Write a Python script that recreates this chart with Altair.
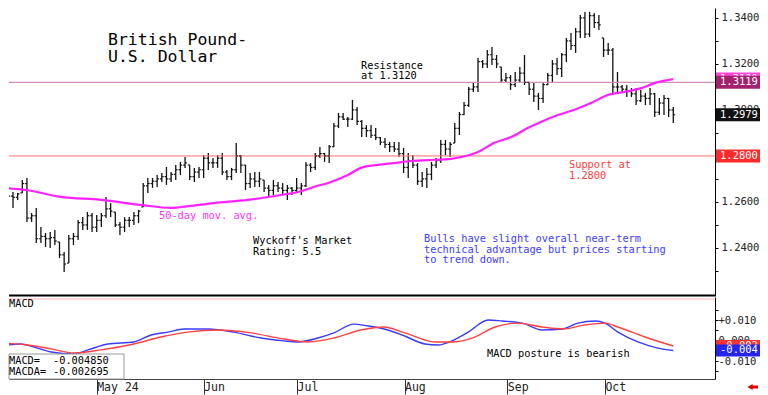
import json
import altair as alt
import pandas as pd

MONO = "DejaVu Sans Mono"

# ---------------- data ----------------
# Daily GBP/USD bars, index 0 = first trading day shown (early April 2024)
highs = [
    1.2652, 1.2665, 1.2643, 1.2639, 1.2695, 1.2704, 1.2552, 1.2574, 1.2491, 1.2465,
    1.2469, 1.2478, 1.2426, 1.2382, 1.2456, 1.2465, 1.2521, 1.2534, 1.2556, 1.2552,
    1.2543, 1.2552, 1.2621, 1.2595, 1.2556, 1.2513, 1.2534, 1.2534, 1.2556, 1.2565,
    1.2682, 1.2704, 1.2704, 1.2717, 1.2726, 1.2752, 1.2730, 1.2761, 1.2774, 1.2795,
    1.2761, 1.2748, 1.2752, 1.2804, 1.2813, 1.2791, 1.2804, 1.2813, 1.2739, 1.2748,
    1.2856, 1.2804, 1.2761, 1.2726, 1.2730, 1.2730, 1.2695, 1.2674, 1.2695, 1.2687,
    1.2682, 1.2674, 1.2665, 1.2704, 1.2682, 1.2774, 1.2769, 1.2813, 1.2839, 1.2813,
    1.2848, 1.2943, 1.2987, 1.2987, 1.2969, 1.3043, 1.3013, 1.2956, 1.2934, 1.2934,
    1.2921, 1.2882, 1.2878, 1.2861, 1.2861, 1.2861, 1.2835, 1.2813, 1.2804, 1.2769,
    1.2730, 1.2748, 1.2774, 1.2791, 1.2869, 1.2869, 1.2861, 1.2943, 1.2991, 1.3035,
    1.3100, 1.3121, 1.3226, 1.3217, 1.3261, 1.3274, 1.3239, 1.3187, 1.3161, 1.3152,
    1.3165, 1.3187, 1.3239, 1.3121, 1.3117, 1.3074, 1.3121, 1.3161, 1.3217, 1.3226,
    1.3248, 1.3313, 1.3335, 1.3356, 1.3413, 1.3426, 1.3426, 1.3421, 1.3413, 1.3313,
    1.3291, 1.3269, 1.3165, 1.3108, 1.3108, 1.3095, 1.3095, 1.3087, 1.3074, 1.3095,
    1.3074, 1.3052, 1.3065, 1.3052, 1.3013,
]
lows = [
    1.2556, 1.2621, 1.2574, 1.2608, 1.2639, 1.2513, 1.2513, 1.2421, 1.2421, 1.2404,
    1.2400, 1.2413, 1.2356, 1.2295, 1.2334, 1.2413, 1.2434, 1.2478, 1.2478, 1.2469,
    1.2469, 1.2491, 1.2530, 1.2534, 1.2491, 1.2456, 1.2469, 1.2491, 1.2500, 1.2508,
    1.2578, 1.2639, 1.2661, 1.2665, 1.2687, 1.2674, 1.2687, 1.2695, 1.2717, 1.2748,
    1.2695, 1.2687, 1.2704, 1.2704, 1.2739, 1.2748, 1.2748, 1.2717, 1.2695, 1.2695,
    1.2726, 1.2726, 1.2652, 1.2661, 1.2665, 1.2665, 1.2643, 1.2621, 1.2630, 1.2643,
    1.2630, 1.2608, 1.2630, 1.2639, 1.2630, 1.2665, 1.2730, 1.2739, 1.2791, 1.2774,
    1.2769, 1.2839, 1.2921, 1.2956, 1.2926, 1.2956, 1.2934, 1.2882, 1.2882, 1.2878,
    1.2869, 1.2848, 1.2835, 1.2817, 1.2817, 1.2795, 1.2726, 1.2704, 1.2748, 1.2674,
    1.2665, 1.2661, 1.2695, 1.2748, 1.2769, 1.2804, 1.2795, 1.2856, 1.2891, 1.2978,
    1.3013, 1.3078, 1.3078, 1.3182, 1.3182, 1.3195, 1.3182, 1.3117, 1.3117, 1.3087,
    1.3100, 1.3117, 1.3108, 1.3065, 1.3035, 1.3000, 1.3030, 1.3108, 1.3117, 1.3152,
    1.3143, 1.3208, 1.3261, 1.3248, 1.3313, 1.3313, 1.3317, 1.3356, 1.3348, 1.3230,
    1.3239, 1.3065, 1.3078, 1.3074, 1.3056, 1.3056, 1.3021, 1.3035, 1.3021, 1.3021,
    1.2969, 1.2978, 1.2978, 1.2969, 1.2943,
]
closes = [
    1.2630, 1.2625, 1.2620, 1.2635, 1.2680, 1.2530, 1.2540, 1.2440, 1.2450, 1.2440,
    1.2445, 1.2430, 1.2370, 1.2330, 1.2440, 1.2450, 1.2510, 1.2500, 1.2540, 1.2490,
    1.2520, 1.2540, 1.2570, 1.2560, 1.2500, 1.2490, 1.2520, 1.2520, 1.2540, 1.2560,
    1.2670, 1.2680, 1.2690, 1.2700, 1.2710, 1.2700, 1.2720, 1.2740, 1.2760, 1.2770,
    1.2710, 1.2730, 1.2740, 1.2790, 1.2770, 1.2770, 1.2790, 1.2730, 1.2710, 1.2740,
    1.2800, 1.2760, 1.2680, 1.2700, 1.2690, 1.2700, 1.2660, 1.2650, 1.2670, 1.2660,
    1.2650, 1.2660, 1.2650, 1.2660, 1.2670, 1.2760, 1.2750, 1.2800, 1.2810, 1.2800,
    1.2840, 1.2930, 1.2970, 1.2960, 1.2960, 1.3000, 1.2950, 1.2920, 1.2910, 1.2890,
    1.2880, 1.2860, 1.2850, 1.2840, 1.2830, 1.2810, 1.2750, 1.2780, 1.2760, 1.2690,
    1.2700, 1.2720, 1.2760, 1.2780, 1.2850, 1.2830, 1.2850, 1.2920, 1.2980, 1.3020,
    1.3090, 1.3100, 1.3210, 1.3200, 1.3240, 1.3220, 1.3200, 1.3130, 1.3140, 1.3110,
    1.3130, 1.3160, 1.3120, 1.3090, 1.3060, 1.3050, 1.3110, 1.3150, 1.3200, 1.3180,
    1.3240, 1.3300, 1.3280, 1.3340, 1.3400, 1.3330, 1.3410, 1.3380, 1.3370, 1.3260,
    1.3260, 1.3100, 1.3100, 1.3090, 1.3080, 1.3070, 1.3040, 1.3060, 1.3050, 1.3070,
    1.2990, 1.3030, 1.3050, 1.3000, 1.2979,
]

# 50-day moving average, read at bar positions
ma_idx = [-0.6, 4.8, 12.3, 20.9, 29.5, 36.0, 38.2, 45.2, 52.5, 59.6, 63.3, 66.7,
          70.4, 74.0, 76.8, 80.5, 83.9, 87.6, 91.2, 96.2, 98.3, 102.0, 105.4,
          109.1, 112.7, 115.5, 119.2, 122.6, 126.3, 129.9, 133.4, 137.1, 140.7,
          142.9, 144.0]
ma_val = [1.2661, 1.2652, 1.2622, 1.2609, 1.2587, 1.2574, 1.2578, 1.2595, 1.2609,
          1.2630, 1.2643, 1.2665, 1.2687, 1.2717, 1.2748, 1.2761, 1.2769, 1.2778,
          1.2782, 1.2787, 1.2795, 1.2817, 1.2856, 1.2882, 1.2921, 1.2948, 1.2978,
          1.3000, 1.3030, 1.3065, 1.3078, 1.3095, 1.3121, 1.3130, 1.3134]

# MACD (blue) and its average MACDA (red)
macd_idx = [-0.6, 3.7, 6.5, 10.2, 15.1, 18.1, 22.4, 28.0, 31.7, 35.3, 38.8, 43.9,
            49.5, 55.3, 60.3, 63.3, 67.6, 71.0, 75.3, 78.3, 81.8, 85.7, 90.6, 93.4,
            96.4, 99.9, 104.2, 107.2, 111.5, 115.8, 120.1, 123.5, 127.2, 129.3,
            132.1, 136.4, 140.7, 144.0]
macd_val = [-0.0027, -0.0017, -0.0032, -0.0056, -0.0066, -0.0046, -0.0017, -0.0007,
            0.0027, 0.0041, 0.0056, 0.0056, 0.0041, 0.0012, -0.0002, -0.0007, 0.0012,
            0.0037, 0.0080, 0.0071, 0.0056, 0.0027, -0.0017, -0.0022, -0.0002, 0.0041,
            0.0100, 0.0095, 0.0085, 0.0051, 0.0056, 0.0085, 0.0095, 0.0085, 0.0041,
            -0.0007, -0.0037, -0.00485]
sig_idx = [-0.6, 5.2, 10.2, 15.1, 20.9, 28.0, 33.8, 39.6, 46.1, 53.2, 60.3, 65.4,
           71.0, 76.8, 81.8, 86.3, 92.8, 96.4, 100.7, 105.7, 110.6, 115.8, 120.1,
           125.0, 129.3, 132.1, 137.9, 144.0]
sig_val = [-0.0012, -0.0022, -0.0041, -0.0061, -0.0046, -0.0017, 0.0017, 0.0041,
           0.0051, 0.0037, 0.0007, -0.0007, 0.0012, 0.0051, 0.0066, 0.0037, -0.0007,
           -0.0007, 0.0012, 0.0066, 0.0085, 0.0066, 0.0056, 0.0076, 0.0085, 0.0066,
           0.0017, -0.0027]

month_pos = [20, 43, 63.1, 86.2, 108.3, 129.3]
month_labels = ["May 24", "Jun", "Jul", "Aug", "Sep", "Oct"]
price_ticks = [1.23, 1.24, 1.25, 1.26, 1.27, 1.28, 1.29, 1.30, 1.31, 1.32, 1.33, 1.34]
macd_ticks = [-0.015, -0.01, -0.005, 0.0, 0.005, 0.01, 0.015]

resistance = 1.3120
support = 1.2800
last_close = 1.2979
ma_last_label = "1.3129"
macd_last = -0.004850
macda_last = -0.002695

# ---------------- tables ----------------
N = len(highs)
opens = [closes[0]] + [min(max(closes[i - 1], lows[i]), highs[i]) for i in range(1, N)]
bars_df = pd.DataFrame({"i": list(range(N)), "high": highs, "low": lows,
                        "close": closes, "open": opens})
bars_df["i_open"] = bars_df["i"] - 0.4
bars_df["i_close"] = bars_df["i"] + 0.4
ma_df = pd.DataFrame({"i": ma_idx, "v": ma_val})
macd_df = pd.DataFrame({"i": macd_idx, "v": macd_val})
sig_df = pd.DataFrame({"i": sig_idx, "v": sig_val})
one = pd.DataFrame({"a": [0]})

# whole chart must stay within 752 px wide (page width minus body margins)
W, HP, HM = 706, 288, 82
BOX_W = 45
xs = alt.Scale(domain=[1.14, 152.97], nice=False, zero=False)
ys = alt.Scale(domain=[1.2191, 1.34432], nice=False, zero=False)
ym = alt.Scale(domain=[-0.01878, 0.02122], nice=False, zero=False)
LBL = 10.5

# label every 0.02 except the 1.28 level, which the support box covers
price_axis = alt.Axis(
    orient="right", values=price_ticks, title=None, grid=False,
    labelExpr="(round(datum.value*100) % 2 == 0 && datum.value > 1.235 && round(datum.value*100) != 128) ? format(datum.value, '.4f') : ''",
    domainColor="black", domainWidth=1, tickColor="black", tickSize=3,
    labelFont=MONO, labelFontSize=LBL, labelColor="#222", labelPadding=3,
    labelOverlap=False, labelFlush=False)

macd_axis = alt.Axis(
    orient="right", values=macd_ticks, title=None, grid=False,
    labelExpr="(abs(datum.value) < 0.0105 && round(datum.value*1000) % 10 == 0) ? "
              "((datum.value > 0.0001 ? '+' : (datum.value < -0.0001 ? '-' : '')) + format(abs(datum.value), '.3f')) : ''",
    domainColor="black", domainWidth=1, tickColor="black", tickSize=3,
    labelFont=MONO, labelFontSize=LBL, labelColor="#222", labelPadding=0,
    labelOverlap=False, labelFlush=False)

month_axis = alt.Axis(
    orient="bottom", values=month_pos, title=None, grid=False,
    labelExpr=json.dumps(month_labels) + "[indexof(" + json.dumps(month_pos) + ", datum.value)]",
    domainColor="#444", domainWidth=1, tickColor="#333", tickSize=15,
    labelAlign="left", labelBaseline="top", labelPadding=-13,
    labelFont=MONO, labelFontSize=11.5, labelColor="#222",
    labelOverlap=False, labelFlush=False)


def txt(s, x, y, color="black", size=10.3, font=MONO):
    return alt.Chart(one).mark_text(align="left", baseline="alphabetic", font=font,
                                    fontSize=size, color=color).encode(
        x=alt.value(x), y=alt.value(y), text=alt.value(s))


def level_box(v, color, label, scale, axis, half):
    d = pd.DataFrame({"v": [v], "top": [v + half], "bot": [v - half]})
    rect = alt.Chart(d).mark_rect(color=color).encode(
        x=alt.value(W + 1), x2=alt.value(W + BOX_W),
        y=alt.Y("top:Q", scale=scale, axis=axis), y2="bot:Q")
    t = alt.Chart(d).mark_text(align="left", baseline="middle", font=MONO,
                               fontSize=LBL, color="white").encode(
        x=alt.value(W + 5), y=alt.Y("v:Q", scale=scale, axis=axis),
        text=alt.value(label))
    return [rect, t]


# ---------------- price panel ----------------
X = alt.X("i:Q", scale=xs, axis=None)


def PY(field):
    return alt.Y(field, scale=ys, axis=price_axis)


lvl = pd.DataFrame({"v": [resistance]})
sup = pd.DataFrame({"v": [support]})

res_rule = alt.Chart(lvl).mark_rule(color="#cf8fb8", strokeWidth=1.2).encode(y=PY("v:Q"))
sup_rule = alt.Chart(sup).mark_rule(color="#ff7070", strokeWidth=1).encode(y=PY("v:Q"))

bars = alt.Chart(bars_df).mark_rule(color="#111", strokeWidth=1.3, clip=True).encode(
    x=X, y=PY("low:Q"), y2="high:Q")
open_t = alt.Chart(bars_df).mark_rule(color="#111", strokeWidth=1.2, clip=True).encode(
    x=alt.X("i_open:Q", scale=xs, axis=None), x2="i:Q", y=PY("open:Q"))
close_t = alt.Chart(bars_df).mark_rule(color="#111", strokeWidth=1.2, clip=True).encode(
    x=alt.X("i:Q", scale=xs, axis=None), x2="i_close:Q", y=PY("close:Q"))

ma = alt.Chart(ma_df).mark_line(color="#ff22ff", strokeWidth=2.2, clip=True,
                                interpolate="monotone").encode(x=X, y=PY("v:Q"))

sep = alt.Chart(one).mark_rule(color="black", strokeWidth=2).encode(
    x=alt.value(0), x2=alt.value(W), y=alt.value(HP - 0.5))

price_texts = [
    txt("British Pound-", 99, 37, size=16.5),
    txt("U.S. Dollar", 99, 54, size=16.5),
    txt("Resistance", 352, 61),
    txt("at 1.3120", 352, 71),
    txt("Support at", 560, 160, color="#ff3b3b"),
    txt("1.2800", 560, 171, color="#ff3b3b"),
    txt("50-day mov. avg.", 150, 211, color="#ff33ff"),
    txt("Wyckoff's Market", 244, 236),
    txt("Rating: 5.5", 244, 246.5),
    txt("Bulls have slight overall near-term", 415, 234, color="#3c3cff"),
    txt("technical advantage but prices starting", 415, 244.5, color="#3c3cff"),
    txt("to trend down.", 415, 254.5, color="#3c3cff"),
]

HALF_P = 0.00283
price_boxes = (level_box(1.3134, "#ff44dd", ma_last_label, ys, price_axis, HALF_P)
               + level_box(resistance, "#a3226f", "1.3119", ys, price_axis, HALF_P)
               + level_box(last_close, "#111111", "1.2979", ys, price_axis, HALF_P)
               + level_box(support, "#ff2a2a", "1.2800", ys, price_axis, HALF_P))

price = alt.layer(bars, res_rule, sup_rule, open_t, close_t, ma, sep,
                  *price_texts, *price_boxes).properties(width=W, height=HP)

# ---------------- MACD panel ----------------
MX = alt.X("i:Q", scale=xs, axis=month_axis)


def MY(field):
    return alt.Y(field, scale=ym, axis=macd_axis)


top_line = alt.Chart(one).mark_rule(color="#ffb3b3", strokeWidth=1).encode(
    x=alt.value(0), x2=alt.value(W), y=alt.value(2))
blue = alt.Chart(macd_df).mark_line(color="#3a3aff", strokeWidth=1.4, clip=True,
                                    interpolate="monotone").encode(x=MX, y=MY("v:Q"))
red = alt.Chart(sig_df).mark_line(color="#ff4040", strokeWidth=1.4, clip=True,
                                  interpolate="monotone").encode(x=MX, y=MY("v:Q"))

val_box = alt.Chart(one).mark_rect(fill="white", stroke="#999", strokeWidth=1).encode(
    x=alt.value(0), x2=alt.value(115), y=alt.value(57), y2=alt.value(HM))

macd_texts = [
    txt("MACD", 0, 10),
    txt("MACD=", 0, 67),
    txt(f"{macd_last:.6f}", 44, 67),
    txt("MACDA=", 0, 78),
    txt(f"{macda_last:.6f}", 44, 78),
    txt("MACD posture is bearish", 478, 60),
]

HALF_M = 0.00293
macd_boxes = (level_box(-0.0027, "#ff3030", "-0.002", ym, macd_axis, HALF_M)
              + level_box(-0.00485, "#2424ee", "-0.004", ym, macd_axis, HALF_M))

arrow_head = alt.Chart(one).mark_point(shape="triangle-left", filled=True,
                                       color="#e00000", size=35, opacity=1).encode(
    x=alt.value(W + 35), y=alt.value(90))
arrow_tail = alt.Chart(one).mark_rule(color="#e00000", strokeWidth=3).encode(
    x=alt.value(W + 36), x2=alt.value(W + 43), y=alt.value(90))

macd = alt.layer(blue, red, top_line, val_box, *macd_texts, *macd_boxes,
                 arrow_tail, arrow_head).properties(width=W, height=HM)

chart = (alt.vconcat(price, macd, spacing=0)
         .properties(padding=0)
         .configure_view(stroke=None))

chart.save("out.html", embed_options={"renderer": "svg", "actions": False})
